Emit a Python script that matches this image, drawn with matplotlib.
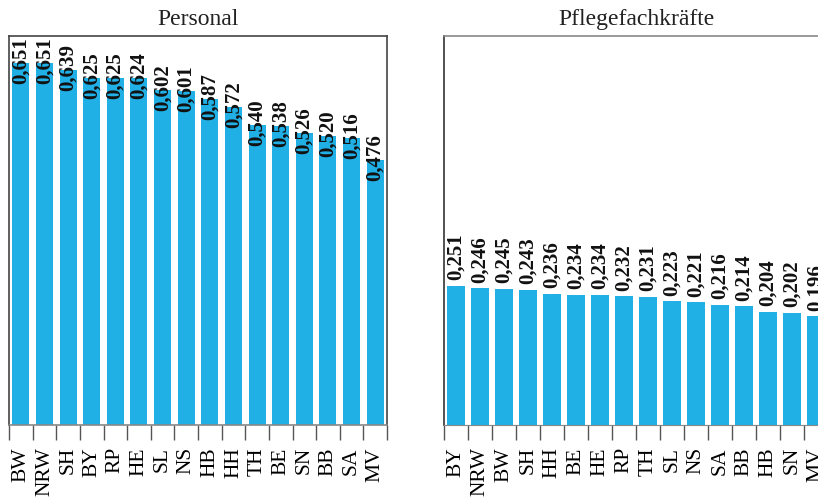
import numpy as np
import matplotlib
matplotlib.use("Agg")
import matplotlib.pyplot as plt

plt.rcParams['font.family'] = ['Liberation Serif', 'DejaVu Serif']

# Personal
cat_pers = ['BW', 'NRW', 'SH', 'BY', 'RP', 'HE', 'SL', 'NS', 'HB', 'HH', 'TH', 'BE', 'SN', 'BB', 'SA', 'MV']
val_pers = [0.651, 0.651, 0.639, 0.625, 0.625, 0.624, 0.602, 0.601, 0.587, 0.572, 0.540, 0.538, 0.526, 0.520, 0.516, 0.476]

# Pflegefachkraefte
cat_pfk = ['BY', 'NRW', 'BW', 'SH', 'HH', 'BE', 'HE', 'RP', 'TH', 'SL', 'NS', 'SA', 'BB', 'HB', 'SN', 'MV']
val_pfk = [0.251, 0.246, 0.245, 0.243, 0.236, 0.234, 0.234, 0.232, 0.231, 0.223, 0.221, 0.216, 0.214, 0.204, 0.202, 0.196]

bar_color = '#20b0e6'

fig = plt.figure(figsize=(8.18, 5.01), dpi=100)
ax1 = fig.add_axes([9/818, 76/501, 378/818, 389/501])
ax2 = fig.add_axes([444/818, 76/501, 384/818, 389/501])


def draw_panel(ax, cats, vals, title, label_offset):
    x = np.arange(len(cats))
    ax.bar(x, vals, width=0.72, color=bar_color, zorder=2)
    ax.set_xlim(-0.5, len(cats) - 0.5)
    ax.set_ylim(0, 0.7)
    ax.set_yticks([])
    # labels in the middle, tick marks between the bars
    ax.set_xticks(x)
    ax.set_xticklabels(cats, rotation=90, fontsize=15.5)
    ax.tick_params(axis='x', which='major', length=0, pad=16)
    ax.set_xticks(np.arange(len(cats) + 1) - 0.5, minor=True)
    ax.tick_params(axis='x', which='minor', length=11, width=1, color='#555555')
    for xi, v in zip(x, vals):
        ax.annotate('{:.3f}'.format(v).replace('.', ','), (xi, v),
                    xytext=(0, label_offset), textcoords='offset points',
                    rotation=90, ha='center', va='bottom',
                    fontsize=15, fontweight='bold', color='#111111',
                    annotation_clip=False, zorder=3)
    ax.set_title(title, fontsize=17, color='#222222', pad=8)


draw_panel(ax1, cat_pers, val_pers, 'Personal', -15)
draw_panel(ax2, cat_pfk, val_pfk, 'Pflegefachkräfte', 4)

for s in ax1.spines.values():
    s.set_color('#444444')
    s.set_linewidth(1.2)
ax1.spines['bottom'].set_color('#888888')

ax2.spines['right'].set_visible(False)
ax2.spines['top'].set_color('#888888')
ax2.spines['top'].set_linewidth(1.2)
ax2.spines['left'].set_color('#333333')
ax2.spines['left'].set_linewidth(1.2)
ax2.spines['bottom'].set_color('#888888')

plt.savefig('out.png', dpi=100)
